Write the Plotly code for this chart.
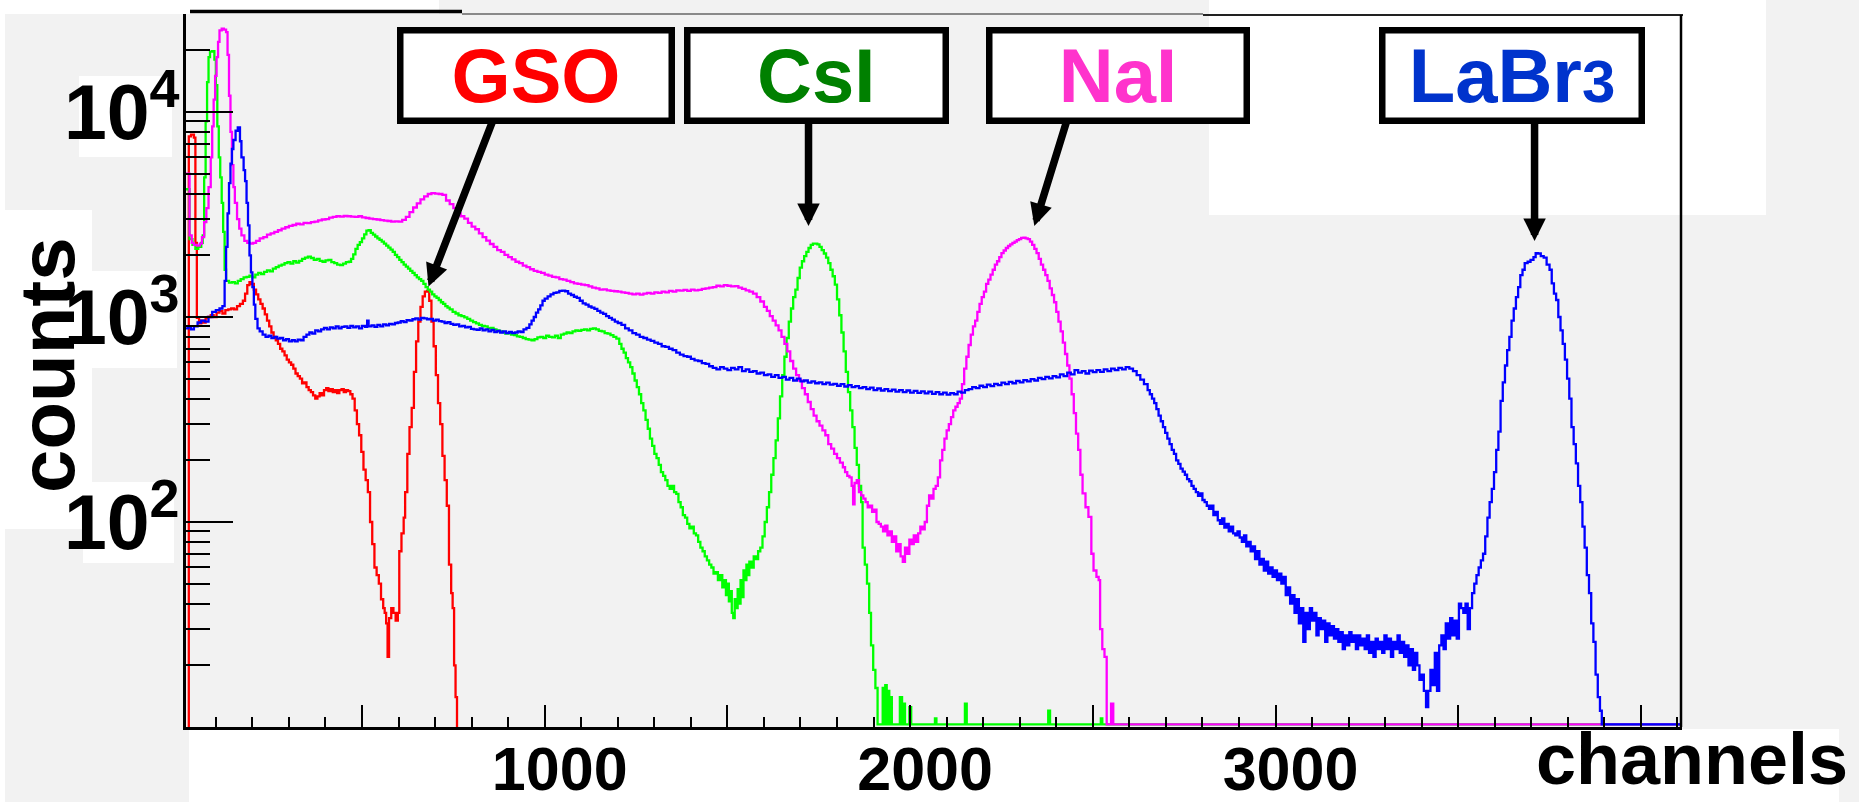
import plotly.graph_objects as go
import math

# ---------------- data (channel, counts) ----------------
GSO = [
    (0, 1), (26, 7600), (32, 7750), (40, 7500), (44, 2300), (48, 990), (54, 930), (60, 960),
    (66, 940), (72, 985), (78, 1000), (86, 1020), (94, 1000), (102, 1050), (110, 1070),
    (118, 1040), (126, 1080), (134, 1090), (142, 1100), (150, 1090), (158, 1130), (166, 1160),
    (174, 1200), (180, 1300), (186, 1430), (192, 1480), (198, 1450), (204, 1360), (210, 1290),
    (216, 1220), (222, 1160), (228, 1100), (234, 1030), (240, 960), (246, 900), (252, 840),
    (258, 800), (264, 770), (270, 740), (276, 700), (282, 680), (288, 650), (294, 620),
    (300, 600), (306, 585), (312, 560), (318, 530), (324, 515), (330, 500), (336, 475),
    (342, 480), (348, 455), (354, 440), (360, 430), (366, 415), (372, 400), (378, 410),
    (384, 425), (390, 415), (396, 440), (402, 450), (408, 435), (414, 445), (420, 430),
    (426, 440), (432, 425), (438, 440), (444, 445), (450, 430), (456, 440), (462, 435),
    (468, 420), (474, 400), (480, 350), (486, 300), (492, 265), (498, 220), (504, 180),
    (510, 160), (516, 140), (522, 100), (528, 78), (534, 60), (540, 55), (546, 50), (552, 42),
    (558, 38), (562, 36), (566, 32), (570, 22), (574, 34), (580, 38), (586, 36), (592, 33),
    (598, 36), (602, 72), (608, 88), (614, 105), (618, 140), (624, 215), (630, 290), (636, 360),
    (642, 540), (648, 760), (654, 950), (660, 1120), (666, 1260), (672, 1330), (678, 1340),
    (684, 1200), (690, 950), (696, 720), (702, 520), (708, 380), (714, 300), (720, 210),
    (726, 160), (732, 120), (738, 62), (744, 45), (748, 38), (752, 20), (756, 14), (760, 1),
    (770, 1),
]

CSI = [
    (0, 4200), (28, 2400), (36, 2250), (44, 2150), (52, 2200), (60, 2300), (64, 2500),
    (68, 4800), (72, 9000), (76, 14000), (80, 18500), (84, 19700), (90, 19800), (96, 18000),
    (100, 13500), (104, 8500), (108, 6000), (112, 4800), (116, 3600), (120, 2600), (124, 1700),
    (128, 1500), (136, 1470), (144, 1480), (152, 1460), (160, 1500), (168, 1530), (176, 1560),
    (184, 1570), (192, 1590), (200, 1560), (208, 1610), (216, 1640), (224, 1620), (232, 1660),
    (240, 1690), (248, 1670), (256, 1720), (264, 1750), (272, 1780), (280, 1800), (288, 1830),
    (296, 1850), (304, 1820), (312, 1870), (320, 1840), (328, 1880), (336, 1920), (344, 1950),
    (352, 1970), (360, 1940), (368, 1900), (376, 1920), (384, 1880), (392, 1860), (400, 1890),
    (408, 1900), (416, 1850), (424, 1830), (432, 1800), (440, 1790), (448, 1820), (456, 1850),
    (464, 1860), (470, 1920), (476, 2020), (482, 2150), (488, 2250), (494, 2320), (500, 2420),
    (506, 2530), (512, 2640), (518, 2650), (524, 2570), (530, 2520), (536, 2470), (542, 2420),
    (548, 2380), (554, 2330), (560, 2280), (566, 2230), (572, 2180), (578, 2130), (584, 2080),
    (590, 2010), (596, 1960), (602, 1900), (608, 1850), (614, 1800), (620, 1760), (626, 1720),
    (632, 1680), (638, 1640), (644, 1600), (650, 1560), (656, 1530), (662, 1500), (668, 1450),
    (674, 1400), (680, 1360), (686, 1330), (692, 1290), (698, 1260), (704, 1240), (710, 1210),
    (716, 1180), (722, 1160), (728, 1130), (734, 1110), (740, 1090), (748, 1060), (756, 1040),
    (764, 1020), (772, 1010), (780, 995), (788, 980), (796, 960), (804, 945), (812, 930),
    (820, 915), (828, 905), (836, 900), (844, 880), (852, 885), (860, 870), (868, 860),
    (876, 850), (884, 845), (892, 830), (900, 835), (908, 820), (916, 815), (924, 805),
    (932, 800), (940, 790), (948, 780), (956, 775), (964, 770), (972, 780), (980, 795),
    (988, 800), (996, 790), (1004, 810), (1012, 800), (1020, 795), (1028, 810), (1036, 790),
    (1044, 820), (1052, 830), (1060, 840), (1068, 835), (1076, 850), (1084, 860), (1092, 855),
    (1100, 865), (1108, 870), (1116, 860), (1124, 875), (1132, 880), (1140, 870), (1148, 855),
    (1156, 850), (1164, 835), (1172, 830), (1180, 815), (1188, 800), (1196, 785), (1204, 740),
    (1210, 700), (1216, 670), (1222, 630), (1228, 600), (1234, 570), (1240, 530), (1246, 490),
    (1252, 455), (1258, 420), (1264, 380), (1270, 350), (1276, 315), (1282, 285), (1288, 255),
    (1294, 235), (1300, 215), (1306, 205), (1312, 190), (1318, 175), (1324, 168), (1330, 160),
    (1336, 150), (1342, 145), (1348, 150), (1354, 140), (1360, 137), (1366, 125), (1372, 118),
    (1378, 108), (1384, 105), (1390, 98), (1396, 93), (1402, 95), (1408, 88), (1414, 86),
    (1420, 80), (1426, 75), (1432, 72), (1438, 68), (1444, 65), (1450, 62), (1456, 60),
    (1462, 56), (1468, 57), (1474, 52), (1480, 55), (1486, 48), (1492, 52), (1496, 44),
    (1500, 50), (1504, 41), (1508, 46), (1512, 36), (1516, 34), (1520, 42), (1524, 38),
    (1528, 47), (1532, 40), (1536, 52), (1540, 43), (1544, 58), (1548, 52), (1552, 62),
    (1556, 55), (1560, 64), (1566, 60), (1572, 68), (1578, 66), (1584, 72), (1590, 75),
    (1596, 85), (1602, 100), (1608, 118), (1614, 140), (1620, 170), (1626, 205), (1632, 250),
    (1638, 320), (1644, 410), (1650, 520), (1656, 640), (1662, 790), (1668, 950), (1674, 1100),
    (1680, 1250), (1686, 1360), (1692, 1550), (1698, 1740), (1704, 1870), (1710, 1980),
    (1716, 2080), (1722, 2170), (1728, 2250), (1734, 2280), (1740, 2280), (1746, 2260),
    (1752, 2200), (1758, 2120), (1764, 2040), (1770, 1950), (1776, 1830), (1782, 1700),
    (1788, 1580), (1794, 1440), (1800, 1220), (1806, 1020), (1812, 840), (1818, 680),
    (1824, 540), (1830, 430), (1836, 350), (1842, 290), (1848, 230), (1854, 190), (1860, 150),
    (1866, 125), (1870, 75), (1876, 62), (1882, 50), (1888, 36), (1893, 25), (1899, 19),
    (1905, 15.5), (1911, 10.3), (1925, 15.5), (1928, 10.3), (1932, 16), (1936, 10.3),
    (1940, 15), (1943, 10.3), (1946, 14), (1950, 10.3), (1972, 14), (1978, 10.3), (1982, 13),
    (1986, 10.3), (1998, 12.5), (2003, 10.3), (2068, 11), (2072, 10.3), (2150, 13), (2155, 10.3),
    (2378, 12), (2383, 10.3), (2522, 11), (2526, 10.3), (4120, 10.3),
]

NAI = [
    (0, 5000), (28, 2500), (34, 2300), (40, 2250), (48, 2230), (56, 2280), (62, 2450),
    (68, 2900), (74, 3400), (80, 4300), (86, 6000), (90, 8500), (94, 11500), (98, 15000),
    (102, 18500), (106, 22000), (110, 25000), (116, 25500), (122, 25200), (128, 24500),
    (132, 19000), (136, 12000), (140, 8000), (144, 5500), (148, 4300), (152, 3600), (158, 3000),
    (164, 2700), (170, 2500), (178, 2350), (186, 2300), (194, 2280), (202, 2300), (210, 2350),
    (220, 2420), (230, 2450), (240, 2520), (250, 2560), (260, 2600), (270, 2650), (280, 2700),
    (290, 2740), (300, 2780), (310, 2810), (320, 2850), (330, 2830), (340, 2880), (350, 2870),
    (360, 2900), (370, 2920), (380, 2960), (390, 2990), (400, 3000), (410, 3050), (420, 3080),
    (430, 3100), (440, 3090), (450, 3110), (460, 3100), (470, 3090), (480, 3080), (490, 3100),
    (500, 3060), (510, 3040), (520, 3020), (530, 3000), (540, 2990), (550, 2970), (560, 2950),
    (570, 2940), (580, 2920), (590, 2930), (600, 2920), (610, 2980), (620, 3080), (630, 3250),
    (640, 3420), (650, 3580), (660, 3750), (670, 3880), (680, 3980), (690, 4020), (700, 4000),
    (710, 3980), (720, 3940), (730, 3700), (740, 3550), (750, 3400), (760, 3200), (770, 3100),
    (780, 3020), (790, 2880), (800, 2760), (810, 2680), (820, 2560), (830, 2450), (840, 2360),
    (850, 2270), (860, 2200), (870, 2120), (880, 2080), (890, 2010), (900, 1960), (910, 1910),
    (920, 1860), (930, 1830), (940, 1780), (950, 1750), (960, 1710), (970, 1680), (980, 1660),
    (990, 1640), (1000, 1610), (1010, 1590), (1020, 1570), (1030, 1560), (1040, 1530),
    (1050, 1520), (1060, 1500), (1070, 1480), (1080, 1460), (1090, 1450), (1100, 1440),
    (1110, 1430), (1120, 1410), (1130, 1390), (1140, 1380), (1150, 1360), (1160, 1365),
    (1170, 1350), (1180, 1340), (1190, 1335), (1200, 1330), (1210, 1320), (1220, 1310),
    (1230, 1300), (1240, 1290), (1250, 1300), (1260, 1285), (1270, 1300), (1280, 1310),
    (1290, 1300), (1300, 1320), (1310, 1310), (1320, 1330), (1330, 1320), (1340, 1340),
    (1350, 1330), (1360, 1350), (1370, 1345), (1380, 1355), (1390, 1340), (1400, 1360),
    (1410, 1350), (1420, 1355), (1430, 1370), (1440, 1380), (1450, 1390), (1460, 1400),
    (1470, 1420), (1480, 1410), (1490, 1430), (1500, 1420), (1510, 1410), (1520, 1415),
    (1530, 1390), (1540, 1370), (1550, 1350), (1560, 1330), (1570, 1300), (1580, 1250),
    (1590, 1190), (1600, 1120), (1608, 1070), (1616, 1010), (1624, 960), (1632, 910),
    (1640, 860), (1648, 800), (1656, 740), (1664, 680), (1672, 610), (1680, 560), (1688, 520),
    (1696, 490), (1704, 450), (1712, 420), (1720, 385), (1728, 355), (1736, 330), (1744, 310),
    (1752, 295), (1760, 280), (1768, 265), (1776, 240), (1784, 228), (1792, 215), (1800, 205),
    (1808, 195), (1816, 185), (1822, 175), (1828, 168), (1834, 165), (1840, 150), (1844, 122),
    (1848, 155), (1854, 160), (1860, 140), (1866, 135), (1872, 130), (1878, 125), (1884, 118),
    (1890, 120), (1896, 112), (1902, 115), (1908, 100), (1914, 98), (1920, 95), (1926, 90),
    (1932, 96), (1938, 86), (1944, 90), (1950, 80), (1956, 85), (1962, 72), (1968, 78),
    (1974, 68), (1980, 64), (1986, 75), (1992, 70), (1998, 82), (2004, 78), (2010, 86),
    (2016, 80), (2022, 88), (2028, 95), (2034, 92), (2040, 100), (2046, 120), (2052, 135),
    (2058, 130), (2064, 145), (2070, 150), (2076, 165), (2082, 200), (2088, 225), (2094, 255),
    (2100, 280), (2106, 300), (2112, 325), (2118, 350), (2124, 365), (2130, 380), (2136, 400),
    (2142, 470), (2148, 560), (2154, 640), (2160, 730), (2166, 820), (2172, 900), (2178, 960),
    (2184, 1060), (2190, 1160), (2196, 1250), (2202, 1330), (2208, 1450), (2214, 1520),
    (2220, 1610), (2226, 1700), (2232, 1800), (2238, 1870), (2244, 1960), (2250, 2050),
    (2256, 2110), (2262, 2170), (2268, 2220), (2274, 2260), (2280, 2300), (2286, 2330),
    (2292, 2370), (2298, 2400), (2304, 2430), (2310, 2440), (2316, 2420), (2322, 2400),
    (2328, 2330), (2334, 2250), (2340, 2150), (2346, 2050), (2352, 1920), (2358, 1800),
    (2364, 1700), (2370, 1600), (2376, 1500), (2382, 1380), (2388, 1280), (2394, 1180),
    (2400, 1060), (2406, 950), (2412, 850), (2418, 750), (2424, 660), (2430, 580), (2436, 500),
    (2442, 420), (2448, 340), (2454, 270), (2460, 225), (2466, 170), (2472, 138), (2480, 118),
    (2488, 106), (2496, 70), (2502, 58), (2510, 54), (2516, 52), (2520, 30), (2526, 24),
    (2532, 22), (2538, 10.3), (2550, 13), (2556, 10.3), (4120, 10.3),
]

LABR3 = [
    (0, 880), (24, 890), (32, 870), (40, 900), (50, 940), (60, 960), (70, 950), (80, 1000),
    (90, 1060), (100, 1080), (110, 1100), (118, 1130), (124, 1500), (128, 2200), (132, 3200),
    (136, 4500), (140, 5600), (144, 6600), (148, 7300), (154, 8100), (160, 8400), (166, 7200),
    (170, 6000), (176, 5200), (180, 4600), (184, 3600), (188, 2800), (192, 2000), (196, 1650),
    (200, 1400), (204, 1150), (208, 980), (214, 880), (220, 850), (228, 820), (236, 800),
    (244, 810), (252, 790), (260, 800), (268, 785), (276, 790), (284, 770), (292, 780),
    (300, 760), (308, 770), (316, 760), (324, 775), (332, 770), (340, 800), (348, 820),
    (356, 840), (364, 830), (372, 860), (380, 850), (388, 870), (396, 885), (404, 870),
    (412, 890), (420, 880), (428, 900), (436, 880), (444, 895), (452, 900), (460, 885),
    (468, 905), (476, 890), (484, 900), (492, 880), (500, 905), (508, 895), (514, 960),
    (518, 900), (526, 910), (534, 895), (542, 915), (550, 900), (558, 920), (566, 910),
    (574, 925), (582, 920), (590, 935), (598, 940), (606, 955), (614, 945), (622, 965),
    (630, 960), (638, 975), (646, 985), (654, 970), (662, 990), (670, 985), (678, 975),
    (686, 980), (694, 960), (702, 970), (710, 955), (718, 950), (726, 935), (734, 945),
    (742, 925), (750, 915), (758, 920), (766, 900), (774, 905), (782, 890), (790, 895),
    (798, 875), (806, 870), (814, 865), (822, 880), (830, 860), (838, 870), (846, 850),
    (854, 865), (862, 845), (870, 855), (878, 840), (886, 850), (894, 835), (902, 845),
    (910, 835), (918, 840), (926, 850), (934, 845), (942, 870), (950, 885), (958, 920),
    (964, 960), (970, 1000), (976, 1050), (982, 1090), (988, 1140), (994, 1200), (1000, 1230),
    (1008, 1260), (1016, 1290), (1024, 1310), (1032, 1320), (1040, 1340), (1048, 1345),
    (1056, 1335), (1064, 1300), (1072, 1280), (1080, 1255), (1088, 1240), (1096, 1200),
    (1104, 1165), (1112, 1150), (1120, 1125), (1128, 1110), (1136, 1095), (1144, 1070),
    (1152, 1050), (1160, 1035), (1168, 1010), (1176, 990), (1184, 970), (1192, 950),
    (1200, 935), (1210, 915), (1220, 880), (1230, 860), (1240, 835), (1250, 820), (1260, 800),
    (1270, 790), (1280, 775), (1290, 765), (1300, 750), (1310, 740), (1320, 720), (1330, 715),
    (1340, 700), (1350, 690), (1360, 670), (1370, 655), (1380, 645), (1390, 640), (1400, 625),
    (1410, 615), (1420, 610), (1430, 595), (1440, 590), (1450, 575), (1460, 565), (1470, 555),
    (1480, 570), (1490, 560), (1500, 550), (1510, 565), (1520, 555), (1530, 570), (1540, 545),
    (1550, 555), (1560, 540), (1570, 545), (1580, 530), (1590, 535), (1600, 520), (1610, 525),
    (1620, 510), (1630, 520), (1640, 505), (1650, 510), (1660, 495), (1670, 505), (1680, 490),
    (1690, 500), (1700, 485), (1710, 490), (1720, 478), (1730, 485), (1740, 475), (1750, 480),
    (1760, 470), (1770, 478), (1780, 468), (1790, 472), (1800, 462), (1810, 470), (1820, 458),
    (1830, 465), (1840, 455), (1850, 460), (1860, 450), (1870, 455), (1880, 445), (1890, 452),
    (1900, 440), (1910, 448), (1920, 438), (1930, 445), (1940, 435), (1950, 442), (1960, 432),
    (1970, 440), (1980, 430), (1990, 438), (2000, 428), (2010, 436), (2020, 426), (2030, 434),
    (2040, 424), (2050, 432), (2060, 422), (2070, 430), (2080, 420), (2090, 428), (2100, 418),
    (2110, 425), (2120, 420), (2130, 432), (2140, 428), (2150, 440), (2160, 445), (2170, 455),
    (2180, 450), (2190, 462), (2200, 455), (2210, 468), (2220, 460), (2230, 472), (2240, 465),
    (2250, 478), (2260, 470), (2270, 482), (2280, 475), (2290, 488), (2300, 480), (2310, 492),
    (2320, 485), (2330, 498), (2340, 490), (2350, 505), (2360, 498), (2370, 510), (2380, 502),
    (2390, 515), (2400, 508), (2410, 525), (2420, 515), (2430, 535), (2440, 525), (2450, 550),
    (2460, 535), (2470, 545), (2480, 530), (2490, 548), (2500, 538), (2510, 550), (2520, 540),
    (2530, 555), (2540, 545), (2550, 560), (2560, 550), (2570, 565), (2580, 555), (2590, 570),
    (2600, 560), (2610, 545), (2620, 520), (2630, 495), (2640, 470), (2650, 440), (2656, 420),
    (2662, 400), (2668, 380), (2674, 355), (2680, 330), (2686, 310), (2692, 290), (2698, 272),
    (2704, 255), (2710, 240), (2716, 225), (2722, 215), (2728, 200), (2734, 192), (2740, 182),
    (2746, 176), (2752, 170), (2758, 162), (2764, 158), (2770, 150), (2776, 145), (2782, 140),
    (2788, 134), (2794, 138), (2800, 128), (2806, 125), (2812, 120), (2818, 116), (2824, 120),
    (2830, 108), (2836, 112), (2842, 102), (2848, 98), (2854, 104), (2860, 94), (2866, 98),
    (2872, 90), (2878, 95), (2884, 88), (2890, 86), (2896, 90), (2902, 84), (2908, 80),
    (2914, 86), (2920, 76), (2926, 80), (2932, 72), (2938, 76), (2944, 66), (2950, 72),
    (2956, 62), (2962, 66), (2968, 58), (2974, 64), (2980, 56), (2986, 60), (2992, 54),
    (2998, 58), (3004, 52), (3010, 56), (3016, 50), (3022, 54), (3028, 44), (3034, 48),
    (3040, 40), (3046, 44), (3052, 36), (3058, 42), (3064, 32), (3070, 38), (3076, 26),
    (3082, 36), (3088, 30), (3094, 38), (3100, 33), (3106, 36), (3112, 28), (3118, 34),
    (3124, 30), (3130, 33), (3136, 26), (3142, 32), (3148, 28), (3154, 31), (3160, 27),
    (3166, 30), (3172, 26), (3178, 29), (3184, 24), (3190, 28), (3196, 25), (3202, 29),
    (3208, 26), (3214, 28), (3220, 24), (3226, 28), (3232, 25), (3238, 27), (3244, 24),
    (3250, 28), (3256, 23), (3262, 26), (3268, 22), (3274, 27), (3280, 24), (3286, 26),
    (3292, 23), (3298, 28), (3304, 24), (3310, 27), (3316, 22), (3322, 26), (3328, 24),
    (3334, 28), (3340, 23), (3346, 26), (3352, 22), (3358, 25), (3364, 20), (3370, 24),
    (3376, 19), (3382, 23), (3388, 20), (3394, 17), (3400, 18), (3406, 15), (3412, 12.5),
    (3418, 15), (3424, 19), (3430, 16), (3436, 23), (3442, 15), (3448, 25), (3454, 28),
    (3460, 24), (3466, 32), (3472, 27), (3478, 34), (3484, 28), (3490, 33), (3496, 27),
    (3502, 40), (3508, 38), (3514, 36), (3520, 40), (3526, 30), (3532, 38), (3538, 45),
    (3544, 50), (3550, 55), (3556, 60), (3562, 65), (3568, 70), (3574, 85), (3580, 105),
    (3586, 125), (3592, 145), (3598, 175), (3604, 225), (3610, 276), (3616, 390), (3622, 480),
    (3628, 580), (3634, 690), (3640, 800), (3646, 960), (3652, 1100), (3658, 1250),
    (3664, 1400), (3670, 1600), (3676, 1700), (3682, 1830), (3690, 1860), (3698, 1900),
    (3706, 1960), (3712, 2050), (3718, 2040), (3726, 1980), (3734, 1950), (3742, 1800),
    (3750, 1700), (3756, 1460), (3762, 1300), (3768, 1210), (3774, 1000), (3780, 860),
    (3786, 740), (3792, 620), (3798, 500), (3804, 400), (3810, 290), (3816, 240), (3822, 193),
    (3828, 150), (3834, 125), (3840, 95), (3846, 75), (3852, 55), (3858, 45), (3864, 32),
    (3870, 26), (3876, 18), (3882, 14), (3888, 12), (3893, 10.3), (4120, 10.3),
]

SERIES_NAMES = ["GSO", "CsI", "NaI", "LaBr3"]
LINE_COLORS = ["#ff0000", "#00ff00", "#ff00ff", "#0000ff"]
LABEL_TEXTS = ["GSO", "CsI", "NaI", "LaBr<span style='font-size:60px'>3</span>"]
LABEL_COLORS = ["#ff0000", "#008000", "#ff33cc", "#0033cc"]
PEAK_CHANNELS = [682, 1722, 2340, 3709]
PEAK_MARK_COUNTS = [1409, 2780, 2780, 2350]

X_RANGE = [18.3, 4112.5]
Y_RANGE_LOG = [1.0, 4.478]
X_TICKS = [500, 1000, 1500, 2000, 2500, 3000, 3500, 4000]
X_TICK_TEXT = ["", "1000", "", "2000", "", "3000", "", ""]
X_MINOR = [v for v in range(100, 4200, 100) if v % 500]
Y_TICKS = [100, 1000, 10000]
Y_TICK_TEXT = ["10<sup>2</sup>", "10<sup>3</sup>", "10<sup>4</sup>"]
Y_MINOR = [m * 10 ** e for e in (1, 2, 3) for m in range(2, 10)] + [20000]

# ---------------- layout geometry (pixels) ----------------
W, H = 1859, 802
PL, PR, PT, PB = 186, 1682, 14, 727
FONT = "Liberation Sans"
GREY = "#f2f2f2"


def fx(X):
    return (X - PL) / (PR - PL)


def fy(Y):
    return (PB - Y) / (PB - PT)


fig = go.Figure()
for name, data, color in zip(SERIES_NAMES, [GSO, CSI, NAI, LABR3], LINE_COLORS):
    ch, cnt = zip(*data)
    fig.add_trace(go.Scatter(
        x=list(ch), y=list(cnt), mode="lines", name=name,
        line=dict(color=color, width=2.3, shape="hv"),
        showlegend=False, hoverinfo="skip",
    ))

shapes = []


def rect(x0, y0, x1, y1, color):
    shapes.append(dict(type="rect", xref="paper", yref="paper",
                       x0=fx(x0), x1=fx(x1), y0=fy(y1), y1=fy(y0),
                       fillcolor=color, line=dict(width=0), layer="below"))


# grey page areas
rect(5, 14, 1859, 729, GREY)
rect(439, 0, 1209, 14, GREY)
rect(1766, 0, 1859, 14, GREY)
rect(5, 528, 189, 802, GREY)
rect(1839, 729, 1859, 802, GREY)
# white patches
rect(1209, 0, 1766, 215, "white")
rect(5, 210, 92, 529, "white")
rect(79, 76, 172, 157, "white")
rect(77, 271, 177, 368, "white")
rect(83, 482, 174, 563, "white")


def hline(x0, x1, y, color, width):
    shapes.append(dict(type="line", xref="paper", yref="paper",
                       x0=fx(x0), x1=fx(x1), y0=fy(y), y1=fy(y),
                       line=dict(color=color, width=width), layer="above"))


hline(190, 462, 11.5, "black", 3.5)
hline(462, 1203, 14, "#666666", 1.5)
hline(1203, 1683, 15, "#222222", 2)
shapes.append(dict(type="line", xref="paper", yref="paper",
                   x0=fx(1681), x1=fx(1681), y0=fy(727), y1=fy(15),
                   line=dict(color="black", width=2.5), layer="above"))

annotations = []
# arrows (drawn first so the label boxes cover their tails)
ARROW_OFFSETS = [(67.7, -174.5), (0, -114), (35.2, -114), (0, -129)]
for chn, cnt, (ax, ay) in zip(PEAK_CHANNELS, PEAK_MARK_COUNTS, ARROW_OFFSETS):
    annotations.append(dict(
        x=chn, y=math.log10(cnt), xref="x", yref="y", text="",
        showarrow=True, arrowhead=2, arrowsize=0.6, arrowwidth=7.5,
        arrowcolor="black", ax=ax, ay=ay, axref="pixel", ayref="pixel",
        standoff=0, font=dict(size=1),
    ))

BOX_CENTERS = [536, 816.3, 1118, 1512]
BOX_WIDTHS = [278, 264.5, 264, 266]
for txt, col, cx, bw in zip(LABEL_TEXTS, LABEL_COLORS, BOX_CENTERS, BOX_WIDTHS):
    annotations.append(dict(
        x=fx(cx), y=fy(75.5), xref="paper", yref="paper", text=txt,
        showarrow=False, xanchor="center", yanchor="middle",
        font=dict(family=FONT, size=76, color=col, weight="bold"),
        bgcolor="white", bordercolor="black", borderwidth=6.5, borderpad=1,
        width=bw - 15, height=82,
    ))

annotations.append(dict(
    x=fx(47), y=fy(365), xref="paper", yref="paper", text="counts",
    textangle=-90, showarrow=False, xanchor="center", yanchor="middle",
    font=dict(family=FONT, size=78, color="black", weight="bold"),
))
annotations.append(dict(
    x=fx(1692), y=fy(801), xref="paper", yref="paper", text="channels",
    showarrow=False, xanchor="center", yanchor="bottom",
    font=dict(family=FONT, size=72, color="black", weight="bold"),
))

fig.update_layout(
    width=W, height=H,
    margin=dict(l=PL, r=W - PR, t=PT, b=H - PB, pad=0),
    paper_bgcolor="white", plot_bgcolor="rgba(0,0,0,0)",
    font=dict(family=FONT, color="black"),
    showlegend=False,
    shapes=shapes, annotations=annotations,
    xaxis=dict(
        type="linear", range=X_RANGE, showgrid=False, zeroline=False,
        showline=True, linecolor="black", linewidth=3, mirror=False,
        ticks="inside", ticklen=22, tickwidth=2, tickcolor="black",
        tickmode="array", tickvals=X_TICKS, ticktext=X_TICK_TEXT,
        tickfont=dict(family=FONT, size=61, color="black", weight="bold"),
        ticklabelstandoff=-13, ticklabelshift=15,
        minor=dict(ticks="inside", ticklen=10, tickwidth=2, tickcolor="black",
                   tickmode="array", tickvals=X_MINOR, showgrid=False),
        automargin=False,
    ),
    yaxis=dict(
        type="log", range=Y_RANGE_LOG, showgrid=False, zeroline=False,
        showline=True, linecolor="black", linewidth=3, mirror=False,
        ticks="inside", ticklen=47, tickwidth=2, tickcolor="black",
        tickmode="array", tickvals=Y_TICKS, ticktext=Y_TICK_TEXT,
        tickfont=dict(family=FONT, size=77, color="black", weight="bold"),
        ticklabelstandoff=-12,
        minor=dict(ticks="inside", ticklen=24, tickwidth=2, tickcolor="black",
                   tickmode="array", tickvals=Y_MINOR, showgrid=False),
        automargin=False,
    ),
)

fig.write_html("out.html")
